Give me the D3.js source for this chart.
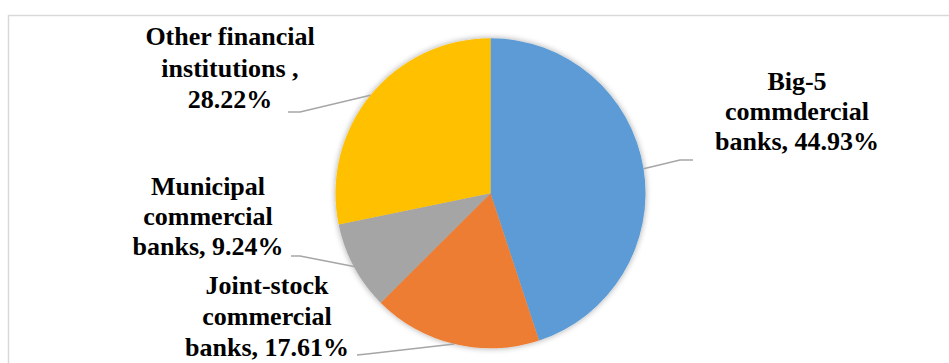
<!DOCTYPE html>
<html>
<head>
<meta charset="utf-8">
<script src="https://cdn.jsdelivr.net/npm/d3@7"></script>
<style>
  body { margin: 0; background: #fff; }
</style>
</head>
<body>
<div id="chart"></div>
<script>
// Data: shares of each bank group, clockwise from 12 o'clock
let categories = ["Big-5 commdercial banks", "Joint-stock commercial banks",
                  "Municipal commercial banks", "Other financial institutions "];
let values = [44.93, 17.61, 9.24, 28.22];
let labelLines = [["Big-5", "commdercial", "banks, "],
                  ["Joint-stock", "commercial", "banks, "],
                  ["Municipal", "commercial", "banks, "],
                  ["Other financial", "institutions ,", ""]];
let colors = ["#5B9BD5", "#ED7D31", "#A5A5A5", "#FFC000"];

// where each label sits (center x, first baseline) and where its leader bends
let labelLayout = [
  {x: 797, y: 90, step: 30, elbow: [680, 160], end: [693, 160]},
  {x: 267, y: 294, step: 31, elbow: [367, 354], end: [357, 355]},
  {x: 208, y: 195, step: 30, elbow: [300, 256], end: [291, 256]},
  {x: 230, y: 45, step: 31.5, elbow: [300, 112], end: [288, 112]}
];

let width = 949;
let height = 363;
let cx = 490.5, cy = 193.3, radius = 155;

let svg = d3.select("#chart").append("svg")
  .attr("width", width).attr("height", height);

// chart area border (cut off at right and bottom)
svg.append("path")
  .attr("d", `M8.5,${height + 5} V15.5 H${width + 5}`)
  .attr("fill", "none")
  .attr("stroke", "#d9d9d9")
  .attr("stroke-width", 1.5);

// soft shadow like the office chart
let defs = svg.append("defs");
let filt = defs.append("filter").attr("id", "shadow")
  .attr("x", "-20%").attr("y", "-20%").attr("width", "140%").attr("height", "140%");
filt.append("feGaussianBlur").attr("in", "SourceAlpha").attr("stdDeviation", 3);
filt.append("feOffset").attr("dx", 0).attr("dy", 0).attr("result", "blur");
filt.append("feComponentTransfer").append("feFuncA").attr("type", "linear").attr("slope", 0.35);
let merge = filt.append("feMerge");
merge.append("feMergeNode");
merge.append("feMergeNode").attr("in", "SourceGraphic");

let pie = d3.pie().sort(null).value(d => d);
let arcs = pie(values);
let arc = d3.arc().innerRadius(0).outerRadius(radius);

let g = svg.append("g").attr("transform", `translate(${cx},${cy})`);

g.append("g").attr("filter", "url(#shadow)")
  .selectAll("path")
  .data(arcs)
  .enter()
  .append("path")
  .attr("d", arc)
  .attr("fill", (d, i) => colors[i]);

// leader lines from the slice edge at the mid angle
let edge = d3.arc().innerRadius(radius).outerRadius(radius);
svg.append("g")
  .selectAll("polyline")
  .data(arcs)
  .enter()
  .append("polyline")
  .attr("points", (d, i) => {
    let c = edge.centroid(d);
    let L = labelLayout[i];
    return [[cx + c[0], cy + c[1]], L.elbow, L.end].map(p => p.join(",")).join(" ");
  })
  .attr("fill", "none")
  .attr("stroke", "#a6a6a6")
  .attr("stroke-width", 1.5);

// labels
let labels = svg.append("g")
  .selectAll("text")
  .data(arcs)
  .enter()
  .append("text")
  .attr("text-anchor", "middle")
  .attr("font-family", "'Liberation Serif', 'Times New Roman', serif")
  .attr("font-weight", "bold")
  .attr("font-size", 26)
  .attr("fill", "#000");

labels.each(function(d, i) {
  let L = labelLayout[i];
  let lines = labelLines[i].slice();
  lines[lines.length - 1] += d3.format(".2f")(values[i]) + "%";
  d3.select(this).selectAll("tspan")
    .data(lines)
    .enter()
    .append("tspan")
    .attr("x", L.x)
    .attr("y", (t, j) => L.y + j * L.step)
    .text(t => t);
});
</script>
</body>
</html>
